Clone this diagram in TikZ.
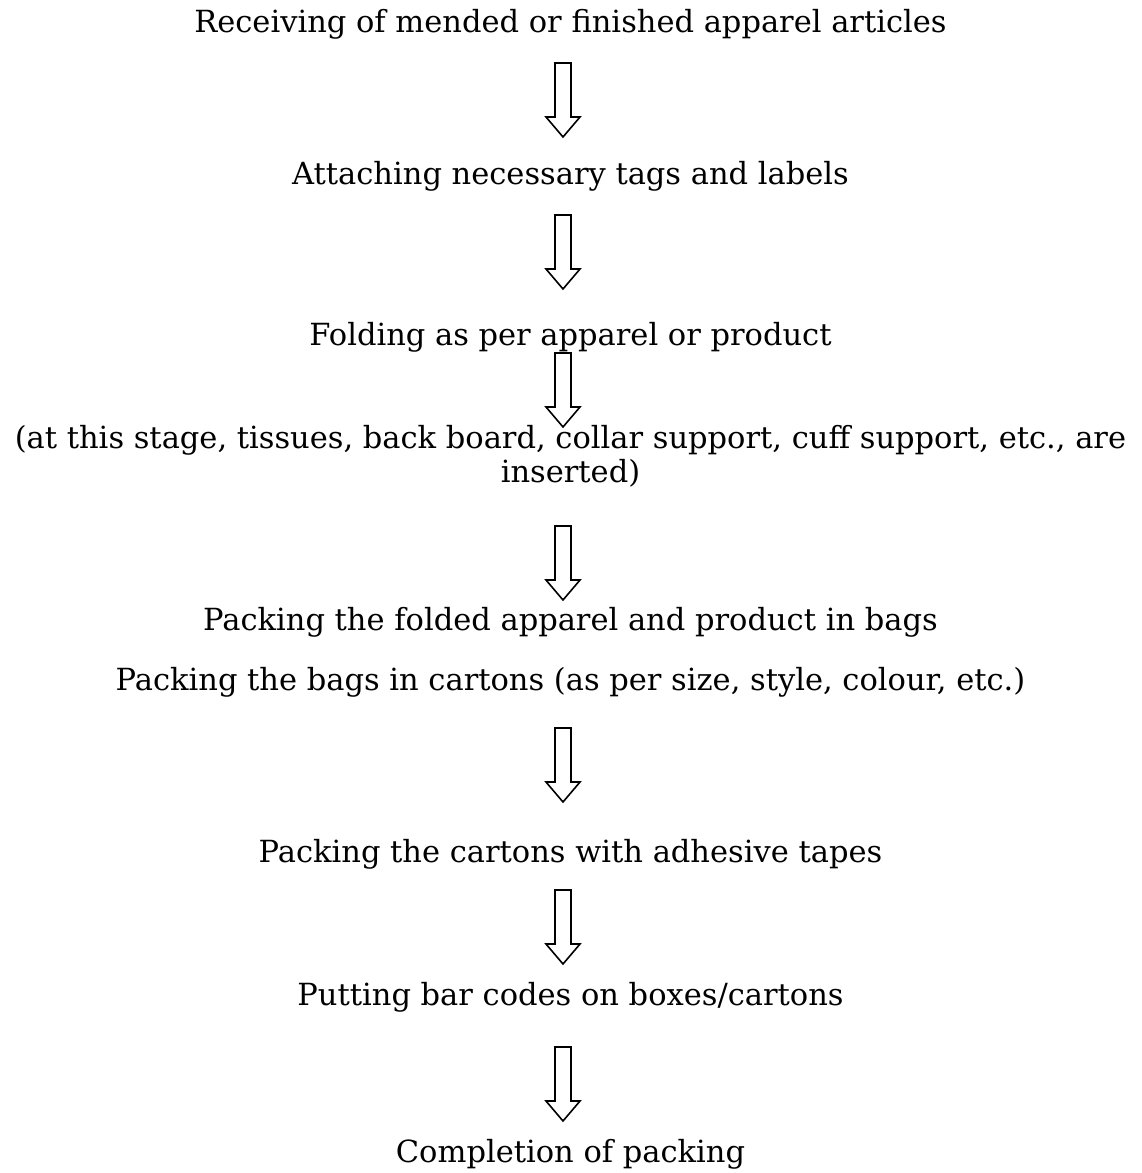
\documentclass[tikz,border=0pt]{standalone}
\usepackage{fontspec}
\setmainfont{DejaVu Serif}
\begin{document}
\begin{tikzpicture}[x=1pt,y=1pt,
  lbl/.style={anchor=base,inner sep=0pt,font=\fontsize{30.5}{34}\selectfont,align=center},
  blockarrow/.pic={\draw[line width=1.6pt,line join=miter] (-8,0) -- (-8,-54) -- (-17,-54) -- (0,-74) -- (17,-54) -- (8,-54) -- (8,0) -- cycle;}]
\useasboundingbox (0,0) rectangle (1141,-1173);
\node[lbl] (t1) at (570.5,-32) {Receiving of mended or finished apparel articles};
\coordinate (a1) at (563,-63);
\node[lbl] (t2) at (570.5,-184) {Attaching necessary tags and labels};
\coordinate (a2) at (563,-215);
\node[lbl] (t3) at (570.5,-345) {Folding as per apparel or product};
\coordinate (a3) at (563,-353);
\node[lbl] (t4) at (570.5,-448) {(at this stage, tissues, back board, collar support, cuff support, etc., are};
\node[lbl] (t5) at (570.5,-482) {inserted)};
\coordinate (a4) at (563,-526);
\node[lbl] (t6) at (570.5,-630) {Packing the folded apparel and product in bags};
\node[lbl] (t7) at (570.5,-690) {Packing the bags in cartons (as per size, style, colour, etc.)};
\coordinate (a5) at (563,-728);
\node[lbl] (t8) at (570.5,-862) {Packing the cartons with adhesive tapes};
\coordinate (a6) at (563,-890);
\node[lbl] (t9) at (570.5,-1005) {Putting bar codes on boxes/cartons};
\coordinate (a7) at (563,-1047);
\node[lbl] (t10) at (570.5,-1162) {Completion of packing};
\foreach \c in {a1,a2,a3,a4,a5,a6,a7} \pic at (\c) {blockarrow};
\end{tikzpicture}
\end{document}
